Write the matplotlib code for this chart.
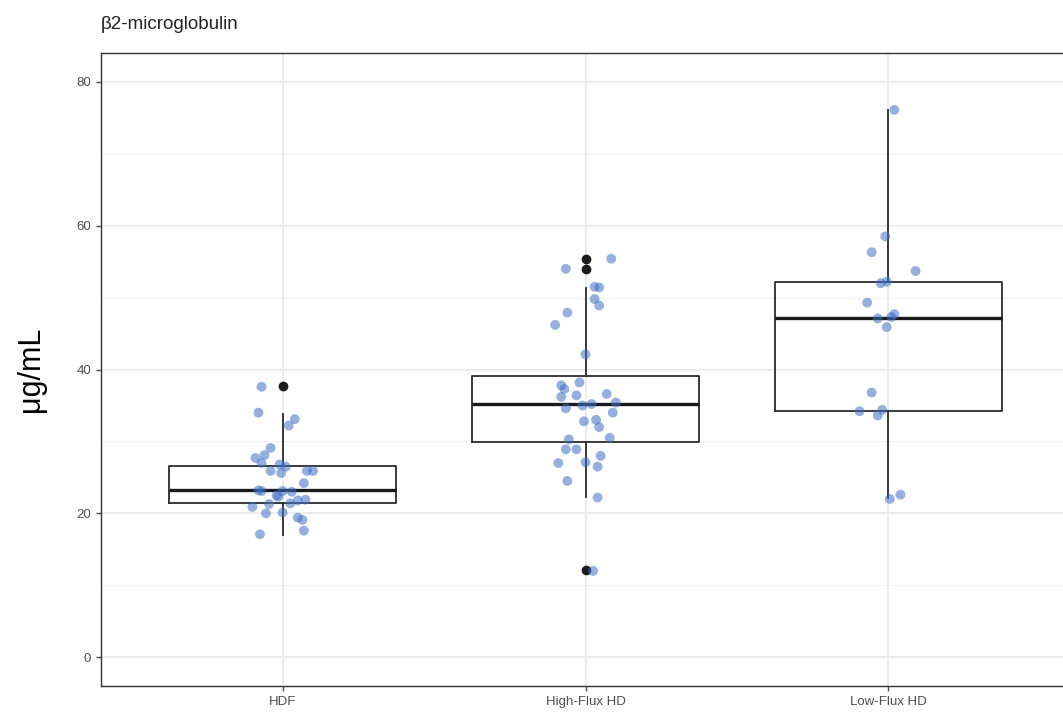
import numpy as np
import matplotlib
matplotlib.use('Agg')
import matplotlib.pyplot as plt

plt.rcParams['font.family'] = ['Liberation Sans', 'DejaVu Sans']

groups = ['HDF', 'High-Flux HD', 'Low-Flux HD']

hdf_vals = [37.6, 34.0, 33.1, 32.2, 29.1, 28.1, 27.7, 27.0, 26.8, 26.5, 25.9, 25.6,
            25.9, 25.9, 24.2, 23.2, 23.1, 22.5, 23.1, 23.0, 22.3, 21.8, 21.9, 21.4,
            21.3, 20.9, 20.0, 20.1, 19.4, 19.1, 17.6, 17.1]
hdf_jit = [-0.07, -0.08, 0.04, 0.02, -0.04, -0.06, -0.09, -0.07, -0.01, 0.01, -0.04, -0.005,
           0.08, 0.10, 0.07, -0.08, -0.07, -0.02, 0.0, 0.03, -0.015, 0.05, 0.075, 0.025,
           -0.045, -0.10, -0.055, 0.0, 0.05, 0.065, 0.07, -0.075]

hf_vals = [55.4, 54.0, 51.5, 51.4, 49.8, 48.9, 47.9, 46.2, 42.1, 38.2, 37.8, 37.3,
           36.4, 36.2, 36.6, 35.4, 35.0, 35.2, 34.6, 34.0, 32.8, 33.0, 32.0, 30.5,
           30.3, 28.9, 28.9, 28.0, 27.0, 27.1, 26.5, 24.5, 22.2, 12.0]
hf_jit = [0.085, -0.065, 0.03, 0.045, 0.03, 0.045, -0.06, -0.10, 0.0, -0.02, -0.08, -0.07,
          -0.03, -0.08, 0.07, 0.10, -0.01, 0.02, -0.065, 0.09, -0.005, 0.035, 0.045, 0.08,
          -0.055, -0.065, -0.03, 0.05, -0.09, 0.0, 0.04, -0.06, 0.04, 0.025]

lf_vals = [76.1, 58.5, 56.3, 53.7, 52.0, 52.2, 49.3, 47.1, 47.3, 47.7, 45.9,
           36.8, 34.2, 34.4, 33.6, 22.0, 22.6]
lf_jit = [0.02, -0.01, -0.055, 0.09, -0.025, -0.005, -0.07, -0.035, 0.01, 0.02, -0.005,
          -0.055, -0.095, -0.02, -0.035, 0.005, 0.04]

# boxplot statistics as drawn
q1 = [21.5, 29.9, 34.2]
med = [23.2, 35.2, 47.2]
q3 = [26.6, 39.1, 52.2]
whislo = [17.0, 22.3, 22.1]
whishi = [33.8, 51.3, 76.1]
fliers = [[37.7], [55.3, 54.0, 12.1], []]

fig = plt.figure(figsize=(10.63, 7.15), dpi=100)
ax = fig.add_axes([101/1063, 1 - 686/715, (1070 - 101)/1063, (686 - 53)/715])

ax.set_xlim(0.4, 3.6)
ax.set_ylim(-4, 84)

for y in [10, 30, 50, 70]:
    ax.axhline(y, color='#f2f2f2', lw=0.8, zorder=0)
for y in [0, 20, 40, 60, 80]:
    ax.axhline(y, color='#ebebeb', lw=1.3, zorder=0)
for x in [1, 2, 3]:
    ax.axvline(x, color='#ebebeb', lw=1.3, zorder=0)

stats = []
for i in range(3):
    stats.append(dict(q1=q1[i], med=med[i], q3=q3[i], whislo=whislo[i],
                      whishi=whishi[i], fliers=fliers[i]))
ax.bxp(stats, positions=[1, 2, 3], widths=0.75, showcaps=False,
       boxprops=dict(color='#2b2b2b', lw=1.3),
       whiskerprops=dict(color='#2b2b2b', lw=1.3),
       medianprops=dict(color='#1a1a1a', lw=2.4),
       flierprops=dict(marker='o', markerfacecolor='#1a1a1a', markeredgecolor='#1a1a1a',
                       markersize=6),
       zorder=2)

for i, (vals, jit) in enumerate([(hdf_vals, hdf_jit), (hf_vals, hf_jit), (lf_vals, lf_jit)]):
    ax.scatter(np.array(jit) + i + 1, vals, s=50, color='#3f6fc6', alpha=0.55,
               edgecolors='none', zorder=3)

ax.set_xticks([1, 2, 3])
ax.set_xticklabels(groups)
ax.set_yticks([0, 20, 40, 60, 80])
ax.tick_params(colors='#4d4d4d', labelsize=9.5, length=3.5, width=1)
for s in ax.spines.values():
    s.set_color('#333333')
    s.set_linewidth(1)

ax.set_ylabel('μg/mL', fontsize=22, labelpad=22)
ax.set_title('β2-microglobulin', loc='left', fontsize=13.5, color='#222222', pad=17)

fig.savefig('out.png', dpi=100)
